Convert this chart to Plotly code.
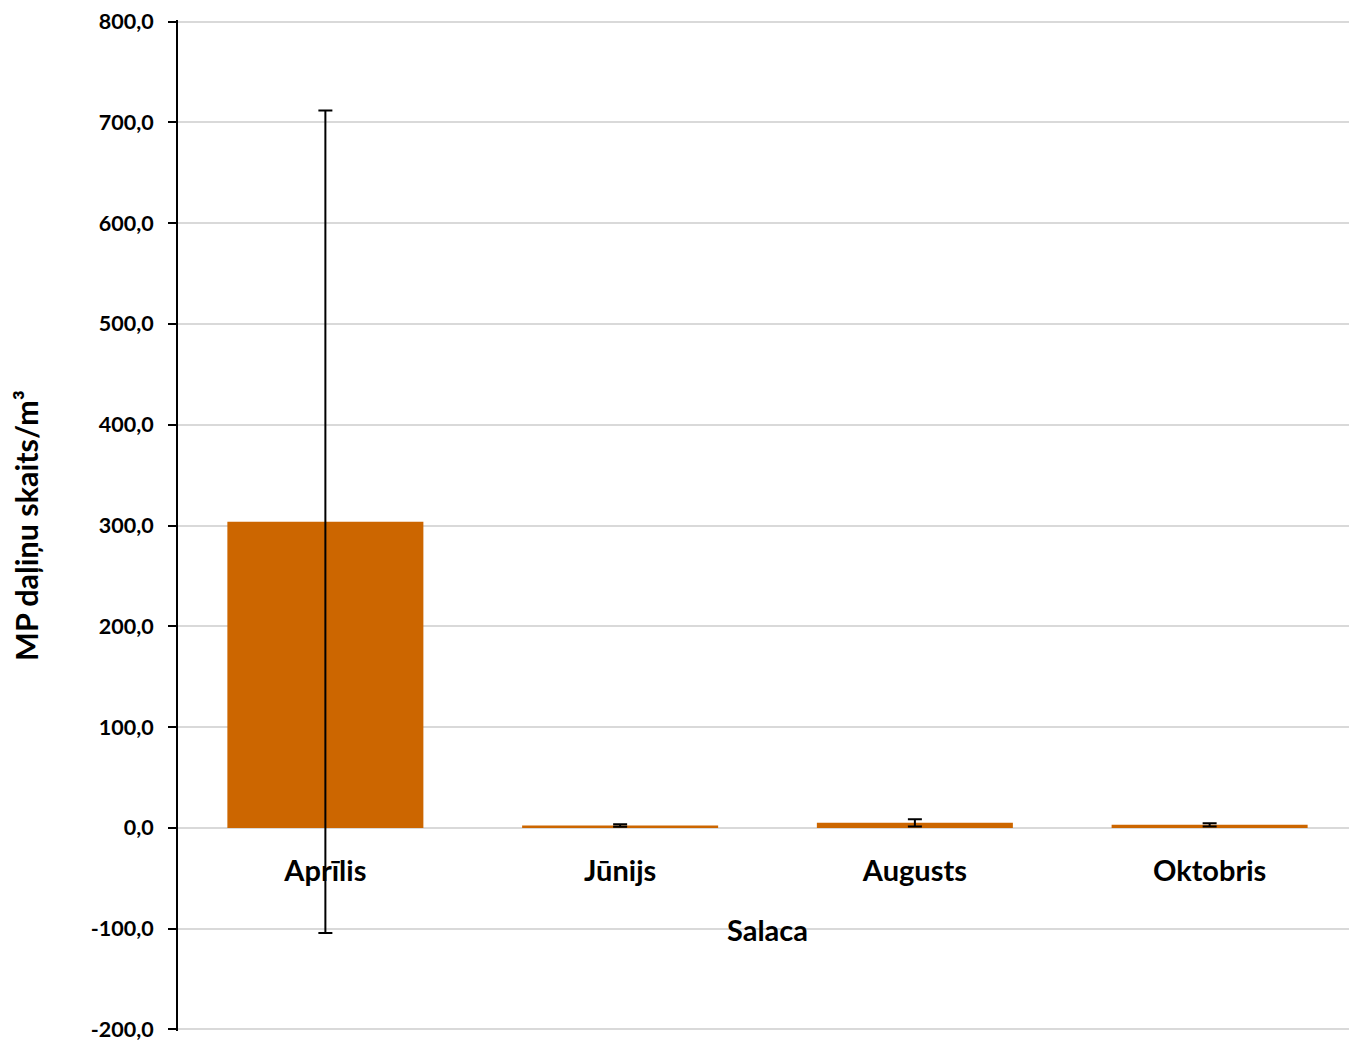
import plotly.graph_objects as go

categories = ["Aprīlis", "Jūnijs", "Augusts", "Oktobris"]
values = [303.7, 2.3, 5.0, 3.0]
errors = [408.0, 1.2, 3.5, 1.5]
y_ticks = [-200, -100, 0, 100, 200, 300, 400, 500, 600, 700, 800]
y_tick_labels = ["-200,0", "-100,0", "0,0", "100,0", "200,0", "300,0",
                 "400,0", "500,0", "600,0", "700,0", "800,0"]

FONT = "Lato"

fig = go.Figure()
fig.add_trace(go.Bar(
    x=categories, y=values,
    marker=dict(color="#CC6600", line=dict(width=0)),
    error_y=dict(type="data", array=errors, visible=True,
                 color="black", thickness=2, width=7),
))

fig.update_layout(
    width=1349, height=1039,
    margin=dict(l=170, r=0, t=12, b=16, autoexpand=False),
    plot_bgcolor="white", paper_bgcolor="white",
    bargap=0.335,
    showlegend=False,
    font=dict(family=FONT, color="black"),
    xaxis=dict(
        anchor="free", position=0.2,
        showgrid=False, showline=False, ticks="",
        automargin=False,
        tickvals=categories,
        ticktext=["<b>" + c + "</b>" for c in categories],
        tickfont=dict(family=FONT, size=29, color="black"),
        title=dict(text="<b>Salaca</b>", font=dict(family=FONT, size=29, color="black"), standoff=34),
        ticklabelstandoff=22,
    ),
    yaxis=dict(
        range=[-201.5, 801.5],
        automargin=False,
        tickvals=y_ticks,
        ticktext=["<b>" + t + "</b>" for t in y_tick_labels],
        ticklabeloverflow="allow",
        showgrid=True, gridcolor="#d9d9d9", gridwidth=2,
        zeroline=True, zerolinecolor="#d9d9d9", zerolinewidth=2,
        showline=True, linecolor="black", linewidth=2,
        ticks="outside", ticklen=8, tickwidth=2, tickcolor="black",
        tickfont=dict(family=FONT, size=21.5, color="black"),
        ticklabelstandoff=10,
        title=dict(text="<b>MP daļiņu skaits/m³</b>", font=dict(family=FONT, size=30.5, color="black"), standoff=50),
    ),
)

fig.write_html("out.html")
